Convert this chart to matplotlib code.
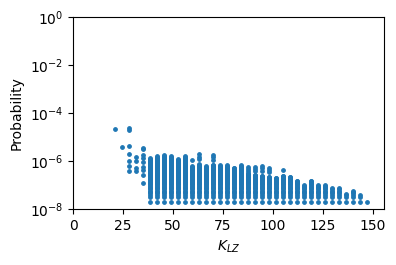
import matplotlib
matplotlib.use("Agg")
import matplotlib.pyplot as plt

levels = [1.9e-8, 3.1e-8, 3.8e-8, 4.5e-8, 5.2e-8, 5.7e-8, 6.5e-8, 7.6e-8, 8.5e-8, 9.5e-8, 1.05e-7,
          1.14e-7, 1.23e-7, 1.33e-7, 1.45e-7, 1.6e-7, 1.75e-7, 1.9e-7, 2.1e-7,
          2.3e-7, 2.5e-7, 2.7e-7, 2.95e-7, 3.2e-7, 3.5e-7, 3.8e-7, 4.1e-7, 4.5e-7, 4.9e-7,
          5.3e-7, 5.8e-7, 6.3e-7, 6.9e-7, 7.5e-7, 8.2e-7, 9e-7, 9.7e-7,
          1.05e-6, 1.15e-6, 1.25e-6, 1.37e-6, 1.5e-6, 1.65e-6, 1.8e-6]

k_solid = [38.5, 42, 45.5, 49, 52.5, 56, 59.5, 63, 66.5, 70, 73.5, 77, 80.5, 84, 87.5, 91,
           94.5, 98, 101.5, 105, 108.5, 112, 115.5, 119, 122.5, 126, 129.5, 133,
           136.5, 140, 143.5, 147]
top_solid = [1.3e-6, 1.6e-6, 1.8e-6, 1.6e-6, 1.2e-6, 1.6e-6, 6.2e-7, 7.5e-7, 6.2e-7, 7e-7,
             6.8e-7, 6.8e-7, 5e-7, 6.8e-7, 3.2e-7, 2.7e-7,
             2.4e-7, 2.2e-7, 2e-7, 2.4e-7, 2.2e-7, 1.5e-7, 1e-7, 1.5e-7, 1e-7, 1e-7,
             7.6e-8, 7.6e-8, 4.2e-8, 5.7e-8, 3.8e-8, 1.9e-8]

k_extra = [21, 24.5, 28, 28, 28, 28, 28, 28, 28,
           31.5, 31.5, 31.5, 31.5,
           35, 35, 35, 35, 35, 35, 35, 35, 35,
           59.5, 63, 63, 63, 70, 70, 70,
           87.5, 87.5, 87.5, 91, 91, 91, 94.5, 94.5, 94.5, 98, 98, 98, 105]
p_extra = [2.1e-5, 3.7e-6, 2.3e-5, 1.9e-5, 4.2e-6, 1.9e-6, 9.6e-7, 6e-7, 3.7e-7,
           1.4e-6, 9.6e-7, 5e-7, 4e-7,
           3.5e-6, 3.1e-6, 1.8e-6, 1.3e-6, 9.5e-7, 5.8e-7, 4.2e-7, 2.6e-7, 1.2e-7,
           1.05e-6, 1.9e-6, 1.5e-6, 1.2e-6, 1.7e-6, 1.4e-6, 1.15e-6,
           5.6e-7, 4.7e-7, 3.9e-7, 5.6e-7, 4.7e-7, 3.9e-7, 6e-7, 5e-7, 4e-7, 5.2e-7, 4.3e-7, 3.5e-7, 4.2e-7]

xs, ys = [], []
for k, top in zip(k_solid, top_solid):
    for p in levels:
        if p < top:
            xs.append(k)
            ys.append(p)
    xs.append(k)
    ys.append(top)
xs += k_extra
ys += p_extra

fig = plt.figure(figsize=(3.96, 2.65), dpi=100)
ax = fig.add_axes([73 / 396, 1 - 209 / 265, 311 / 396, 192 / 265])
ax.scatter(xs, ys, s=6, color="#1f77b4")
ax.set_yscale("log")
ax.set_xlim(0, 155.5)
ax.set_ylim(1e-8, 1)
ax.set_yticks([1e-8, 1e-6, 1e-4, 1e-2, 1])
ax.minorticks_off()
ax.set_xticks([0, 25, 50, 75, 100, 125, 150])
ax.set_xlabel(r"$K_{LZ}$")
ax.set_ylabel("Probability", labelpad=4.6)
fig.savefig("out.png", dpi=100)
